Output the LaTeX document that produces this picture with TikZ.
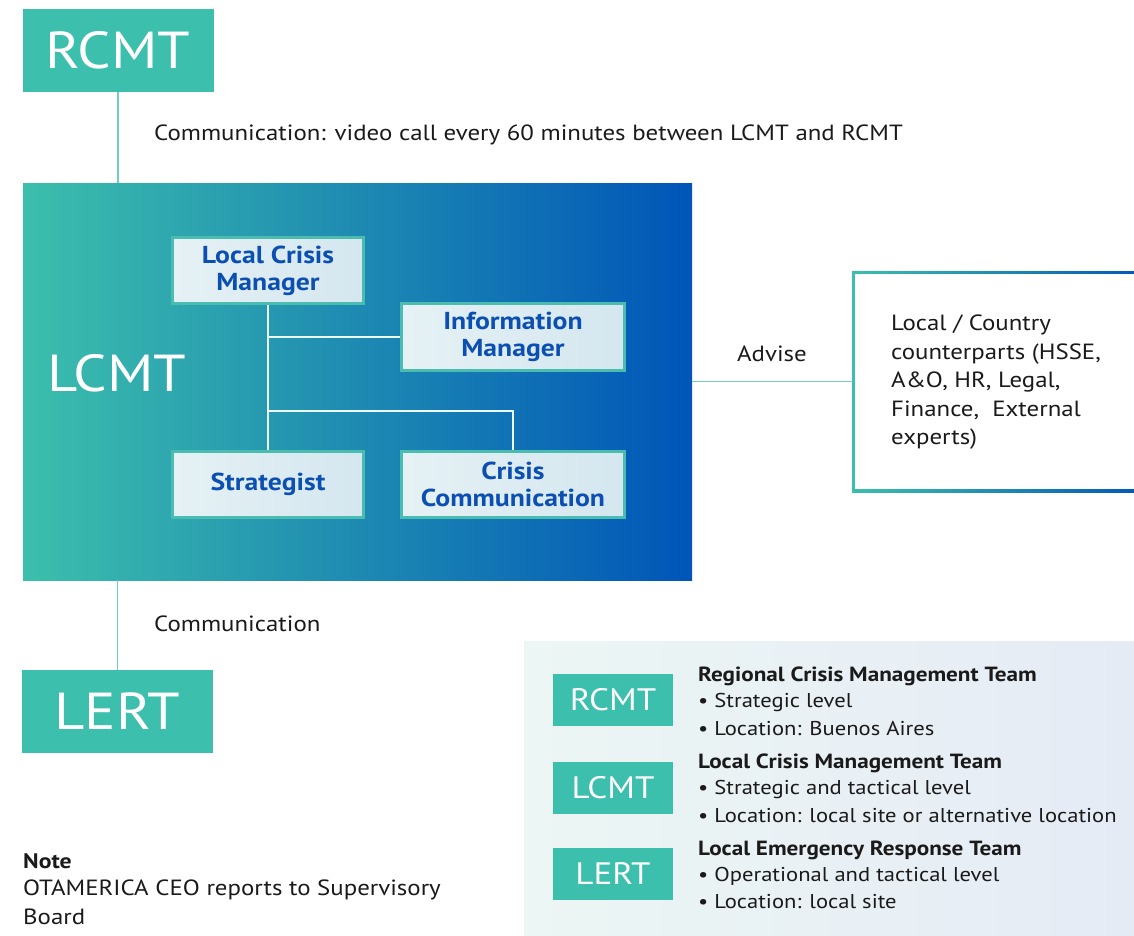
\documentclass[tikz,border=0pt]{standalone}
\usepackage{fontspec}
\setmainfont[FakeStretch=1.13]{PT Sans}
\definecolor{teal1}{HTML}{3CBFAC}
\definecolor{blue1}{HTML}{0055B8}
\definecolor{linec}{HTML}{6FCFC0}
\definecolor{innerb}{HTML}{4ABDB0}
\definecolor{innerf}{HTML}{DFEEF2}
\definecolor{innert}{HTML}{0B4FB2}
\definecolor{txt}{HTML}{1A1A1A}
\definecolor{legl}{HTML}{ECF6F4}
\definecolor{legr}{HTML}{E5EBF5}
\newcommand{\fs}[1]{\fontsize{#1}{#1}\selectfont}
\tikzset{
  bigbox/.style={fill=teal1, text=white, inner sep=0pt, minimum width=191, minimum height=83, font=\fs{52}},
  smallbox/.style={fill=teal1, text=white, inner sep=0pt, minimum width=120, minimum height=52, font=\fs{31}},
  innerbox/.style={draw=innerb, line width=3pt, left color=innerf!80!white, right color=innerf!95!blue1, text=innert, inner sep=0pt, align=center, font=\bfseries\fontsize{24.5}{27}\selectfont},
  conn/.style={draw=linec, line width=1.6pt},
  wconn/.style={draw=white!90!teal1, line width=1.3pt},
  lbl/.style={text=txt, anchor=west, inner sep=0pt, font=\fs{22}},
  legtitle/.style={text=txt, anchor=west, inner sep=0pt, font=\bfseries\fs{20.5}},
  legitem/.style={text=txt, anchor=west, inner sep=0pt, font=\fs{20}},
}
\begin{document}
\begin{tikzpicture}[x=1pt,y=-1pt]
\useasboundingbox (0,0) rectangle (1134,935);
% top and bottom team boxes
\node[bigbox] (rcmt) at (118,50.5) {RCMT};
\node[left color=teal1, right color=blue1, minimum width=669, minimum height=397, inner sep=0pt] (lcmt) at (357.5,381.5) {};
\node[text=white, anchor=west, inner sep=0pt, font=\fs{52}] (lcmtlbl) at (47,373) {LCMT};
\node[bigbox] (lert) at (117.5,711.5) {LERT};
% connectors between teams
\draw[conn] (rcmt.south) -- (rcmt.south |- lcmt.north);
\draw[conn] (lert.north |- lcmt.south) -- (lert.north);
\node[lbl] (comm1) at (154,135) {Communication: video call every 60 minutes between LCMT and RCMT};
\node[lbl] (comm2) at (154,624) {Communication};
% inner boxes
\node[innerbox, minimum width=191, minimum height=66] (lcm) at (268,270.5) {Local Crisis\\Manager};
\node[innerbox, minimum width=223, minimum height=67] (im) at (513,337) {Information\\Manager};
\node[innerbox, minimum width=191, minimum height=66] (str) at (268,484.5) {Strategist};
\node[innerbox, minimum width=223, minimum height=66] (cc) at (513,484.5) {Crisis\\Communication};
\coordinate (jn) at (268,411);
\draw[wconn] (lcm.south) -- (str.north);
\draw[wconn] (lcm.south |- im.west) -- (im.west);
\draw[wconn] (jn) -| (cc.north);
% counterparts box
\begin{scope}
\clip (0,0) rectangle (1134,935);
\shade[left color=teal1, right color=blue1] (852,271) rectangle (1150,492);
\fill[white] (855,274) rectangle (1150,489);
\end{scope}
\coordinate (cp) at (853,381.5);
\node[text=txt, anchor=north west, inner sep=0pt, align=left, font=\fontsize{22}{28.5}\selectfont] (cpt) at (891,315) {Local / Country\\counterparts (HSSE,\\A\&O, HR, Legal,\\Finance,\ \ External\\experts)};
\draw[conn] (lcmt.east) -- (cp);
\node[text=txt, inner sep=0pt, font=\fs{22}] (adv) at (772,354) {Advise};
% legend
\shade[left color=legl, right color=legr] (524,641) rectangle (1134,935);
\node[smallbox] (k1) at (613,700) {RCMT};
\node[smallbox] (k2) at (613,788) {LCMT};
\node[smallbox] (k3) at (613,874) {LERT};
\node[legtitle] (t1) at (698,676) {Regional Crisis Management Team};
\node[legitem] (t1a) at (698,702) {• Strategic level};
\node[legitem] (t1b) at (698,728) {• Location: Buenos Aires};
\node[legtitle] (t2) at (698,763) {Local Crisis Management Team};
\node[legitem] (t2a) at (698,789) {• Strategic and tactical level};
\node[legitem] (t2b) at (698,816) {• Location: local site or alternative location};
\node[legtitle] (t3) at (698,850) {Local Emergency Response Team};
\node[legitem] (t3a) at (698,876) {• Operational and tactical level};
\node[legitem] (t3b) at (698,902) {• Location: local site};
% note
\node[legtitle, font=\bfseries\fs{21}] (note) at (23,861) {Note};
\node[lbl] (n1) at (23,890) {OTAMERICA CEO reports to Supervisory};
\node[lbl] (n2) at (23,917) {Board};
\end{tikzpicture}
\end{document}
